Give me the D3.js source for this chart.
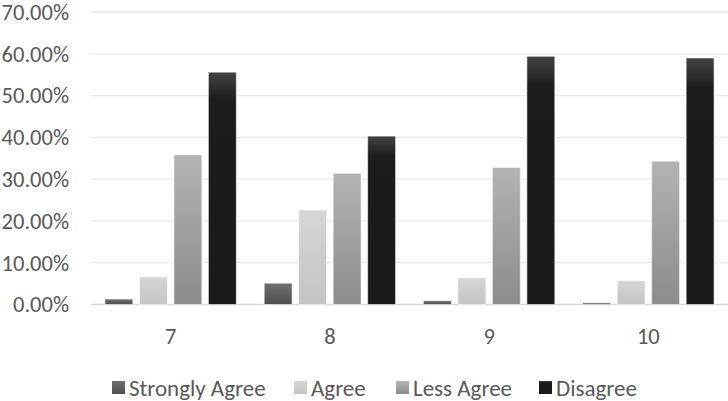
<!DOCTYPE html>
<html>
<head>
<meta charset="utf-8">
<script src="https://cdn.jsdelivr.net/npm/d3@7"></script>
<style>
  body { margin: 0; background: #fff; }
  svg text { font-family: Carlito, 'Open Sans', 'Noto Sans', sans-serif; fill: #595959; }
</style>
</head>
<body>
<svg id="chart"></svg>
<script>
const categories = ['7', '8', '9', '10'];
const seriesNames = ['Strongly Agree', 'Agree', 'Less Agree', 'Disagree'];
const stronglyAgree = [1.3, 5.1, 0.9, 0.4];
const agree = [6.6, 22.6, 6.4, 5.7];
const lessAgree = [35.8, 31.4, 32.8, 34.3];
const disagree = [55.6, 40.3, 59.4, 59.0];
const yTicks = [0, 10, 20, 30, 40, 50, 60, 70];

const seriesValues = [stronglyAgree, agree, lessAgree, disagree];

// gradient stops for each series (top -> bottom)
const fills = [
  [['0%', '#707070'], ['100%', '#4e4e4e']],
  [['0%', '#d6d6d6'], ['100%', '#c4c4c4']],
  [['0%', '#b3b3b3'], ['100%', '#8c8c8c']],
  [['0%', '#444444'], ['12%', '#1c1c1c'], ['100%', '#1a1a1a']]
];

function chartBars(container) {
  const width = 728;
  const height = 401;
  const plot = { left: 91, right: 728, top: 12, bottom: 304.5 };

  const svg = d3.select(container)
      .attr('width', width)
      .attr('height', height);

  const defs = svg.append('defs');
  fills.forEach((stops, i) => {
    const g = defs.append('linearGradient')
        .attr('id', `grad${i}`)
        .attr('x1', 0).attr('y1', 0)
        .attr('x2', 0).attr('y2', 1);
    stops.forEach(s => g.append('stop').attr('offset', s[0]).attr('stop-color', s[1]));
  });

  const x0 = d3.scaleBand()
      .domain(categories)
      .range([plot.left, plot.right])
      .paddingInner(0.175)
      .paddingOuter(0.0875);

  const x1 = d3.scaleBand()
      .domain(seriesNames)
      .range([0, x0.bandwidth()])
      .paddingInner(0.19);

  const y = d3.scaleLinear()
      .domain([0, 70])
      .range([plot.bottom, plot.top]);

  // gridlines
  svg.append('g')
      .selectAll('line')
      .data(yTicks)
    .enter().append('line')
      .attr('x1', plot.left)
      .attr('x2', plot.right)
      .attr('y1', d => y(d))
      .attr('y2', d => y(d))
      .attr('stroke', d => d === 0 ? '#d9d9d9' : '#e8e8e8')
      .attr('stroke-width', 1.3);

  // y labels
  svg.append('g')
      .selectAll('text')
      .data(yTicks)
    .enter().append('text')
      .attr('x', 69)
      .attr('y', d => y(d))
      .attr('dy', '0.35em')
      .attr('text-anchor', 'end')
      .style('font-size', '22.5px')
      .text(d => d.toFixed(2) + '%');

  // bars
  const group = svg.selectAll('.cat')
      .data(categories)
    .enter().append('g')
      .attr('class', 'cat')
      .attr('transform', d => `translate(${x0(d)},0)`);

  group.selectAll('rect')
      .data((d, ci) => seriesNames.map((s, si) => ({ s, si, v: seriesValues[si][ci] })))
    .enter().append('rect')
      .attr('x', d => x1(d.s))
      .attr('y', d => y(d.v))
      .attr('width', x1.bandwidth())
      .attr('height', d => y(0) - y(d.v))
      .attr('fill', d => `url(#grad${d.si})`)
      .attr('stroke', 'rgba(255,255,255,0.55)')
      .attr('stroke-width', 1);

  // x labels
  svg.append('g')
      .selectAll('text')
      .data(categories)
    .enter().append('text')
      .attr('x', d => x0(d) + x0.bandwidth() / 2)
      .attr('y', 336)
      .attr('dy', '0.35em')
      .attr('text-anchor', 'middle')
      .style('font-size', '22.5px')
      .text(d => d);

  // legend
  const legendX = [112, 294, 396, 539];
  const legend = svg.append('g')
      .selectAll('g')
      .data(seriesNames)
    .enter().append('g')
      .attr('transform', (d, i) => `translate(${legendX[i]},387.5)`);

  legend.append('rect')
      .attr('x', 0)
      .attr('y', -6.5)
      .attr('width', 13)
      .attr('height', 13)
      .attr('fill', (d, i) => `url(#grad${i})`);

  legend.append('text')
      .attr('x', 17)
      .attr('y', 0)
      .attr('dy', '0.35em')
      .style('font-size', '23px')
      .text(d => d);
}

chartBars('#chart');
</script>
</body>
</html>
